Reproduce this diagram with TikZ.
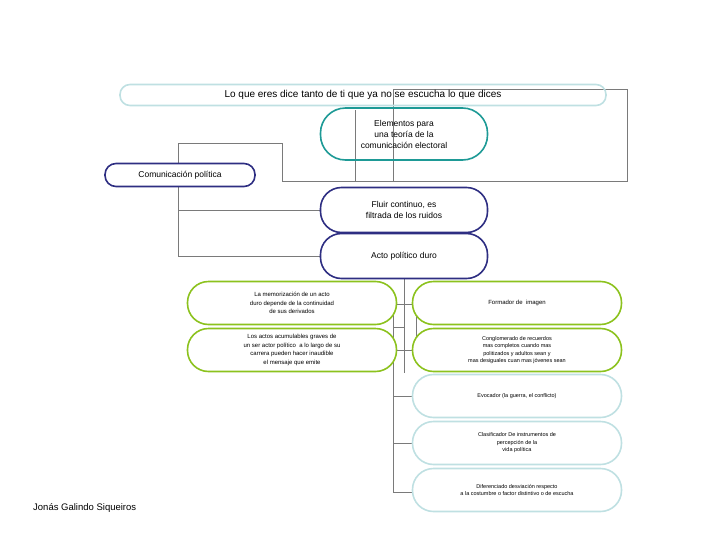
\documentclass[tikz,border=0pt]{standalone}
\usepackage{fontspec}
\setmainfont{Liberation Sans}
\usepackage{tikz}
\usetikzlibrary{positioning}
\definecolor{navy}{HTML}{2E2E82}
\definecolor{teal2}{HTML}{1E9A96}
\definecolor{pale}{HTML}{BFE0E2}
\definecolor{lime}{HTML}{8CC21E}
\definecolor{wire}{HTML}{7A7A7A}

\begin{document}
\begin{tikzpicture}[x=1pt, y=-1pt,
    pill/.style={draw, line width=1.6pt, rounded corners=21pt, align=center, inner sep=1pt},
    bigpill/.style={pill, minimum width=167pt, minimum height=45pt, draw=navy, font=\fontsize{8.5}{11}\selectfont},
    smallpill/.style={pill, minimum width=209pt, minimum height=43pt, font=\fontsize{6}{8.5}\selectfont},
    wires/.style={draw=wire, line width=0.6pt}]
        \useasboundingbox (0,0) rectangle (728,546);
        % Wires behind the boxes
        \draw [wires] (178,143) -- (282,143) -- (282,181) -- (627,181) -- (627,89) -- (393,89) -- (393,181);
        \draw [wires] (355,110) -- (355,181);
        \draw [wires] (178,143) -- (178,256) -- (320,256);
        \draw [wires] (178,210) -- (320,210);
        \draw [wires] (404,278) -- (404,373);
        \draw [wires] (393,304) rectangle (416,350);
        \draw [wires] (393,327) -- (404,327);
        \draw [wires] (393,304) -- (393,492);
        \foreach \y in {396,443,492}
            \draw [wires] (393,\y) -- (412,\y);
        % Top row
        \node [pill, draw=pale, minimum width=486pt, minimum height=21pt, rounded corners=10pt,
            font=\fontsize{10}{12}\selectfont, fill=none] (lema) at (363,95)
            {Lo que eres dice tanto de ti que ya no se escucha lo que dices};
        \node [bigpill, draw=teal2, minimum height=52pt, rounded corners=25pt] (elementos) at (404,134)
            {Elementos para\\una teoría de la\\comunicación electoral};
        \node [pill, draw=navy, fill=white, minimum width=150pt, minimum height=23pt, rounded corners=11pt,
            font=\fontsize{8.5}{11}\selectfont] (comunicacion) at (180,175) {Comunicación política};
        % Middle column
        \node [bigpill, fill=white] (fluir) at (404,210) {Fluir continuo, es\\filtrada de los ruidos};
        \node [bigpill, fill=white] (acto) at (404,256) {Acto político duro};
        % Left green
        \node [smallpill, draw=lime, fill=white] (memoria) at (292,303)
            {La memorización de un acto\\duro depende de la continuidad\\de sus derivados};
        \node [smallpill, draw=lime, fill=white] (actos) at (292,350)
            {Los actos acumulables graves de\\un ser actor político\ \ a lo largo de su\\carrera pueden hacer inaudible\\el mensaje que emite};
        % Right column
        \node [smallpill, draw=lime, fill=white] (formador) at (517,303) {Formador de\ \ imagen};
        \node [smallpill, draw=lime, fill=white, font=\fontsize{5.5}{7.5}\selectfont] (conglomerado) at (517,350)
            {Conglomerado de recuerdos\\mas completos cuando mas\\politizados y adultos sean y\\mas desiguales cuan mas jóvenes sean};
        \node [smallpill, draw=pale, fill=white, font=\fontsize{5.5}{7.5}\selectfont] (evocador) at (517,396)
            {Evocador (la guerra, el conflicto)};
        \node [smallpill, draw=pale, fill=white, font=\fontsize{5.5}{7.5}\selectfont] (clasificador) at (517,443)
            {Clasificador De instrumentos de\\percepción de la\\vida política};
        \node [smallpill, draw=pale, fill=white, font=\fontsize{5.5}{7.5}\selectfont] (diferenciado) at (517,490)
            {Diferenciado desviación respecto\\a la costumbre o factor distintivo o de escucha};
        % Author
        \node [anchor=west, font=\fontsize{9.5}{11}\selectfont, inner sep=0pt] (autor) at (33,508) {Jonás Galindo Siqueiros};
    \end{tikzpicture}
\end{document}
